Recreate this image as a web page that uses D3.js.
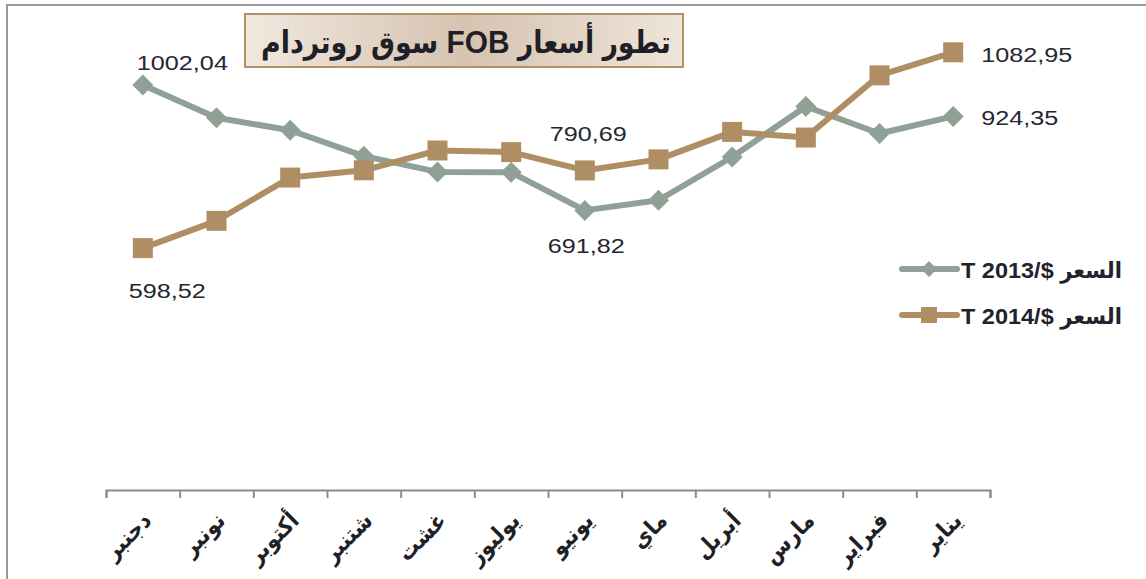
<!DOCTYPE html>
<html>
<head>
<meta charset="utf-8">
<title>FOB Rotterdam</title>
<script src="https://d3js.org/d3.v7.min.js"></script>
<style>
  html, body { margin: 0; background: #fff; }
  svg { display: block; font-family: "Liberation Sans", Arial, "DejaVu Sans", sans-serif; }
  .ar { font-family: "Liberation Sans", Arial, "DejaVu Sans Condensed", "DejaVu Sans", sans-serif; }
</style>
</head>
<body>
<svg id="svg"></svg>
<script>
// months, right-to-left as in the source (Dec ... Jan)
const months = ["دجنبر", "نونبر", "أكتوبر", "شتنبر", "غشت", "يوليوز", "يونيو", "ماي", "أبريل", "مارس", "فبراير", "يناير"];
const price2013 = [1002.04, 921, 890, 826, 787, 786, 691.82, 717, 824, 949, 882, 924.35];
const price2014 = [598.52, 666, 773, 791, 840, 836, 790.69, 818, 886, 872, 1026, 1082.95];
const seriesNames = ["T 2013/$ السعر", "T 2014/$ السعر"];
const titleText = "تطور أسعار FOB  سوق روتردام";
const labelled = [0, 6, 11];

const W = 1146, H = 579;
const green = "#8fa196", brown = "#b08e63";
const stretch = 1.2; // source picture is wider than its fonts

const svg = d3.select("#svg").attr("width", W).attr("height", H);

// squeeze/stretch a text horizontally to a wanted width
function fitTo(sel, tx, ty, width) {
  const w = sel.node().getComputedTextLength();
  sel.attr("transform", `translate(${tx},${ty}) scale(${width / w},1)`);
}

// outer frame (only top/left edges show)
svg.append("path")
  .attr("d", `M7,${H} V5 H${W}`)
  .attr("fill", "none")
  .attr("stroke", "#9a9a9a")
  .attr("stroke-width", 2);

const x = d3.scaleBand().domain(months).range([106, 990]);
const xi = d3.scaleLinear().domain([0, months.length]).range([106, 990]);
const y = d3.scaleLinear().domain([0, 1200]).range([490, 5]);
const cx = m => x(m) + x.bandwidth() / 2;

// axis with separators between months
const axis = svg.append("g")
  .attr("transform", "translate(0,490)")
  .call(d3.axisBottom(xi).tickValues(d3.range(months.length + 1)).tickSize(8).tickSizeOuter(8).tickFormat(""));
axis.selectAll("path, line").attr("stroke", "#8c8c8c").attr("stroke-width", 2);

svg.append("g").selectAll("text")
  .data(months)
  .join("text")
  .attr("class", "ar")
  .attr("transform", d => `translate(${cx(d) + 10},522) rotate(-45)`)
  .attr("text-anchor", "end")
  .attr("font-size", 23)
  .attr("font-weight", "bold")
  .attr("fill", "#1f1f26")
  .text(d => d);

const line = d3.line().x((d, i) => cx(months[i])).y(d => y(d));

function series(values, color, marker) {
  const g = svg.append("g");
  g.append("path")
    .attr("d", line(values))
    .attr("fill", "none")
    .attr("stroke", color)
    .attr("stroke-width", 6)
    .attr("stroke-linejoin", "round");
  g.selectAll("path.m")
    .data(values)
    .join("path")
    .attr("class", "m")
    .attr("transform", (d, i) => `translate(${cx(months[i])},${y(d)})`)
    .attr("d", marker)
    .attr("fill", color);
}

const diamond = s => `M0,${-s}L${s},0L0,${s}L${-s},0Z`;
const square = s => `M${-s},${-s}H${s}V${s}H${-s}Z`;

series(price2013, green, diamond(10.5));
series(price2014, brown, square(10));

// value labels: offsets from the point
const off2013 = { 0: [-6, -15], 6: [-37, 43], 11: [28, 9] };
const off2014 = { 0: [-14, 50], 6: [-35, -29], 11: [28, 10] };
const fmt = v => v.toFixed(2).replace(".", ",");

function valueLabels(values, off) {
  svg.append("g").selectAll("text")
    .data(labelled)
    .join("text")
    .attr("transform", i => `translate(${cx(months[i]) + off[i][0]},${y(values[i]) + off[i][1]}) scale(${stretch},1)`)
    .attr("font-size", 21)
    .attr("fill", "#262630")
    .text(i => fmt(values[i]));
}
valueLabels(price2013, off2013);
valueLabels(price2014, off2014);

// legend
const legend = svg.append("g");
[[green, diamond(8)], [brown, square(8)]].forEach(([c, m], k) => {
  const ly = 269 + k * 46;
  legend.append("line")
    .attr("x1", 902).attr("x2", 957).attr("y1", ly).attr("y2", ly)
    .attr("stroke", c).attr("stroke-width", 6).attr("stroke-linecap", "round");
  legend.append("path").attr("transform", `translate(929,${ly})`).attr("d", m).attr("fill", c);
  const t = legend.append("text")
    .attr("class", "ar")
    .attr("font-size", 22)
    .attr("font-weight", "bold")
    .attr("fill", "#22222c")
    .text(seriesNames[k]);
  fitTo(t, 961, ly + 9, 161);
});

// title box
const defs = svg.append("defs");
const grad = defs.append("linearGradient").attr("id", "tg");
grad.append("stop").attr("offset", "0%").attr("stop-color", "#f1e8df");
grad.append("stop").attr("offset", "50%").attr("stop-color", "#d6c3b0");
grad.append("stop").attr("offset", "100%").attr("stop-color", "#efe5da");

svg.append("rect")
  .attr("x", 245).attr("y", 14).attr("width", 438).attr("height", 53)
  .attr("fill", "url(#tg)")
  .attr("stroke", "#b39168").attr("stroke-width", 2);

const title = svg.append("text")
  .attr("class", "ar")
  .attr("direction", "rtl")
  .attr("text-anchor", "middle")
  .attr("font-size", 31)
  .attr("font-weight", "bold")
  .attr("fill", "#1f1f28")
  .text(titleText);
fitTo(title, 466, 53, 410);
</script>
</body>
</html>
